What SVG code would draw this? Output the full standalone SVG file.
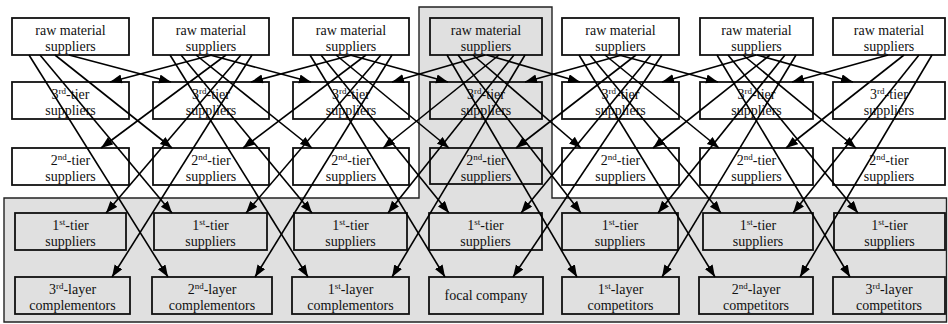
<svg xmlns="http://www.w3.org/2000/svg" width="948" height="324" viewBox="0 0 948 324" font-family="'Liberation Serif','DejaVu Serif',serif">
<defs>
<marker id="ah" markerUnits="userSpaceOnUse" markerWidth="13" markerHeight="10" refX="12" refY="4.5" orient="auto">
<path d="M0,0 L12,4.5 L0,9 z" fill="#000"/>
</marker>
<style>
.b{fill:#fff;stroke:#111;stroke-width:1.8}
.g{fill:#e0e0e0;stroke:#111;stroke-width:1.8}
text{font-family:'Liberation Serif','DejaVu Serif',serif;font-size:14px;fill:#111;text-anchor:middle}
.s{font-size:9px}
.c{stroke:#000;stroke-width:1.6;fill:none;marker-end:url(#ah)}
</style>
</defs>
<rect width="948" height="324" fill="#fff"/>
<polygon id="focal-network" points="419,7 552,7 552,198 946.5,198 946.5,322 4,322 4,198 419,198" fill="#e0e0e0" stroke="#222" stroke-width="1.4"/>

<!-- row 1: raw material suppliers -->
<g id="raw1"><rect class="b" x="12" y="18" width="117" height="37"/><text x="70.5" y="35">raw material</text><text x="70.5" y="51">suppliers</text></g>
<g id="raw2"><rect class="b" x="153" y="18" width="116" height="37"/><text x="211" y="35">raw material</text><text x="211" y="51">suppliers</text></g>
<g id="raw3"><rect class="b" x="293" y="18" width="116" height="37"/><text x="351" y="35">raw material</text><text x="351" y="51">suppliers</text></g>
<g id="raw4"><rect class="g" x="430" y="18" width="112" height="37"/><text x="486" y="35">raw material</text><text x="486" y="51">suppliers</text></g>
<g id="raw5"><rect class="b" x="562" y="18" width="117" height="37"/><text x="620.5" y="35">raw material</text><text x="620.5" y="51">suppliers</text></g>
<g id="raw6"><rect class="b" x="700" y="18" width="113" height="37"/><text x="756.5" y="35">raw material</text><text x="756.5" y="51">suppliers</text></g>
<g id="raw7"><rect class="b" x="833" y="18" width="112" height="37"/><text x="889" y="35">raw material</text><text x="889" y="51">suppliers</text></g>

<!-- row 2: 3rd-tier suppliers -->
<g id="t3-1"><rect class="b" x="12" y="82" width="117" height="37"/><text x="70.5" y="98.5">3<tspan class="s" dy="-5">rd</tspan><tspan dy="5">-tier</tspan></text><text x="70.5" y="115">suppliers</text></g>
<g id="t3-2"><rect class="b" x="153" y="82" width="116" height="37"/><text x="211" y="98.5">3<tspan class="s" dy="-5">rd</tspan><tspan dy="5">-tier</tspan></text><text x="211" y="115">suppliers</text></g>
<g id="t3-3"><rect class="b" x="293" y="82" width="116" height="37"/><text x="351" y="98.5">3<tspan class="s" dy="-5">rd</tspan><tspan dy="5">-tier</tspan></text><text x="351" y="115">suppliers</text></g>
<g id="t3-4"><rect class="g" x="430" y="82" width="112" height="37"/><text x="486" y="98.5">3<tspan class="s" dy="-5">rd</tspan><tspan dy="5">-tier</tspan></text><text x="486" y="115">suppliers</text></g>
<g id="t3-5"><rect class="b" x="562" y="82" width="117" height="37"/><text x="620.5" y="98.5">3<tspan class="s" dy="-5">rd</tspan><tspan dy="5">-tier</tspan></text><text x="620.5" y="115">suppliers</text></g>
<g id="t3-6"><rect class="b" x="700" y="82" width="113" height="37"/><text x="756.5" y="98.5">3<tspan class="s" dy="-5">rd</tspan><tspan dy="5">-tier</tspan></text><text x="756.5" y="115">suppliers</text></g>
<g id="t3-7"><rect class="b" x="833" y="82" width="112" height="37"/><text x="889" y="98.5">3<tspan class="s" dy="-5">rd</tspan><tspan dy="5">-tier</tspan></text><text x="889" y="115">suppliers</text></g>

<!-- row 3: 2nd-tier suppliers -->
<g id="t2-1"><rect class="b" x="12" y="148" width="117" height="37"/><text x="70.5" y="164.5">2<tspan class="s" dy="-5">nd</tspan><tspan dy="5">-tier</tspan></text><text x="70.5" y="181">suppliers</text></g>
<g id="t2-2"><rect class="b" x="153" y="148" width="116" height="37"/><text x="211" y="164.5">2<tspan class="s" dy="-5">nd</tspan><tspan dy="5">-tier</tspan></text><text x="211" y="181">suppliers</text></g>
<g id="t2-3"><rect class="b" x="293" y="148" width="116" height="37"/><text x="351" y="164.5">2<tspan class="s" dy="-5">nd</tspan><tspan dy="5">-tier</tspan></text><text x="351" y="181">suppliers</text></g>
<g id="t2-4"><rect class="g" x="430" y="148" width="112" height="36"/><text x="486" y="164.5">2<tspan class="s" dy="-5">nd</tspan><tspan dy="5">-tier</tspan></text><text x="486" y="181">suppliers</text></g>
<g id="t2-5"><rect class="b" x="562" y="148" width="117" height="37"/><text x="620.5" y="164.5">2<tspan class="s" dy="-5">nd</tspan><tspan dy="5">-tier</tspan></text><text x="620.5" y="181">suppliers</text></g>
<g id="t2-6"><rect class="b" x="700" y="148" width="113" height="37"/><text x="756.5" y="164.5">2<tspan class="s" dy="-5">nd</tspan><tspan dy="5">-tier</tspan></text><text x="756.5" y="181">suppliers</text></g>
<g id="t2-7"><rect class="b" x="833" y="148" width="112" height="37"/><text x="889" y="164.5">2<tspan class="s" dy="-5">nd</tspan><tspan dy="5">-tier</tspan></text><text x="889" y="181">suppliers</text></g>

<!-- row 4: 1st-tier suppliers -->
<g id="t1-1"><rect class="g" x="15" y="213" width="111" height="37"/><text x="70.5" y="229.5">1<tspan class="s" dy="-5">st</tspan><tspan dy="5">-tier</tspan></text><text x="70.5" y="246">suppliers</text></g>
<g id="t1-2"><rect class="g" x="154" y="213" width="113" height="37"/><text x="210.5" y="229.5">1<tspan class="s" dy="-5">st</tspan><tspan dy="5">-tier</tspan></text><text x="210.5" y="246">suppliers</text></g>
<g id="t1-3"><rect class="g" x="294" y="213" width="113" height="37"/><text x="350.5" y="229.5">1<tspan class="s" dy="-5">st</tspan><tspan dy="5">-tier</tspan></text><text x="350.5" y="246">suppliers</text></g>
<g id="t1-4"><rect class="g" x="429" y="213" width="113" height="37"/><text x="485.5" y="229.5">1<tspan class="s" dy="-5">st</tspan><tspan dy="5">-tier</tspan></text><text x="485.5" y="246">suppliers</text></g>
<g id="t1-5"><rect class="g" x="562" y="213" width="116" height="37"/><text x="620" y="229.5">1<tspan class="s" dy="-5">st</tspan><tspan dy="5">-tier</tspan></text><text x="620" y="246">suppliers</text></g>
<g id="t1-6"><rect class="g" x="703" y="213" width="110" height="37"/><text x="758" y="229.5">1<tspan class="s" dy="-5">st</tspan><tspan dy="5">-tier</tspan></text><text x="758" y="246">suppliers</text></g>
<g id="t1-7"><rect class="g" x="834" y="213" width="111" height="37"/><text x="889.5" y="229.5">1<tspan class="s" dy="-5">st</tspan><tspan dy="5">-tier</tspan></text><text x="889.5" y="246">suppliers</text></g>

<!-- row 5 -->
<g id="comp3"><rect class="g" x="15" y="277" width="115" height="37"/><text x="72.5" y="293.5">3<tspan class="s" dy="-5">rd</tspan><tspan dy="5">-layer</tspan></text><text x="72.5" y="310">complementors</text></g>
<g id="comp2"><rect class="g" x="152" y="277" width="120" height="37"/><text x="212" y="293.5">2<tspan class="s" dy="-5">nd</tspan><tspan dy="5">-layer</tspan></text><text x="212" y="310">complementors</text></g>
<g id="comp1"><rect class="g" x="292" y="277" width="117" height="37"/><text x="350.5" y="293.5">1<tspan class="s" dy="-5">st</tspan><tspan dy="5">-layer</tspan></text><text x="350.5" y="310">complementors</text></g>
<g id="focal"><rect class="g" x="429" y="277" width="114" height="37"/><text x="486" y="300">focal company</text></g>
<g id="compt1"><rect class="g" x="562" y="277" width="117" height="37"/><text x="620.5" y="293.5">1<tspan class="s" dy="-5">st</tspan><tspan dy="5">-layer</tspan></text><text x="620.5" y="310">competitors</text></g>
<g id="compt2"><rect class="g" x="699" y="277" width="114" height="37"/><text x="756" y="293.5">2<tspan class="s" dy="-5">nd</tspan><tspan dy="5">-layer</tspan></text><text x="756" y="310">competitors</text></g>
<g id="compt3"><rect class="g" x="833" y="277" width="112" height="37"/><text x="889" y="293.5">3<tspan class="s" dy="-5">rd</tspan><tspan dy="5">-layer</tspan></text><text x="889" y="310">competitors</text></g>

<g id="connectors">
<!-- right-going -->
<line class="c" x1="69" y1="55" x2="171" y2="82"/>
<line class="c" x1="55" y1="55" x2="172" y2="148"/>
<line class="c" x1="40" y1="55" x2="172" y2="213"/>
<line class="c" x1="29" y1="55" x2="168" y2="277"/>
<line class="c" x1="210" y1="55" x2="311" y2="82"/>
<line class="c" x1="196" y1="55" x2="312" y2="148"/>
<line class="c" x1="181" y1="55" x2="312" y2="213"/>
<line class="c" x1="170" y1="55" x2="308" y2="277"/>
<line class="c" x1="350" y1="55" x2="448" y2="82"/>
<line class="c" x1="336" y1="55" x2="449" y2="148"/>
<line class="c" x1="321" y1="55" x2="449" y2="213"/>
<line class="c" x1="310" y1="55" x2="445" y2="277"/>
<line class="c" x1="487" y1="55" x2="580" y2="82"/>
<line class="c" x1="473" y1="55" x2="581" y2="148"/>
<line class="c" x1="458" y1="55" x2="581" y2="213"/>
<line class="c" x1="447" y1="55" x2="577" y2="277"/>
<line class="c" x1="619" y1="55" x2="718" y2="82"/>
<line class="c" x1="605" y1="55" x2="719" y2="148"/>
<line class="c" x1="590" y1="55" x2="721" y2="213"/>
<line class="c" x1="579" y1="55" x2="715" y2="277"/>
<line class="c" x1="757" y1="55" x2="853" y2="82"/>
<line class="c" x1="743" y1="55" x2="856" y2="148"/>
<line class="c" x1="728" y1="55" x2="858" y2="213"/>
<line class="c" x1="717" y1="55" x2="850" y2="277"/>
<!-- left-going -->
<line class="c" x1="212" y1="55" x2="110" y2="82"/>
<line class="c" x1="226" y1="55" x2="101" y2="148"/>
<line class="c" x1="241" y1="55" x2="106" y2="213"/>
<line class="c" x1="252" y1="55" x2="112" y2="277"/>
<line class="c" x1="352" y1="55" x2="251" y2="82"/>
<line class="c" x1="366" y1="55" x2="243" y2="148"/>
<line class="c" x1="381" y1="55" x2="246" y2="213"/>
<line class="c" x1="392" y1="55" x2="255" y2="277"/>
<line class="c" x1="485" y1="55" x2="392" y2="82"/>
<line class="c" x1="499" y1="55" x2="383" y2="148"/>
<line class="c" x1="514" y1="55" x2="388" y2="213"/>
<line class="c" x1="525" y1="55" x2="392" y2="277"/>
<line class="c" x1="622" y1="55" x2="525" y2="82"/>
<line class="c" x1="636" y1="55" x2="516" y2="148"/>
<line class="c" x1="651" y1="55" x2="521" y2="213"/>
<line class="c" x1="662" y1="55" x2="513" y2="277"/>
<line class="c" x1="756" y1="55" x2="662" y2="82"/>
<line class="c" x1="770" y1="55" x2="653" y2="148"/>
<line class="c" x1="785" y1="55" x2="658" y2="213"/>
<line class="c" x1="796" y1="55" x2="662" y2="277"/>
<line class="c" x1="888" y1="55" x2="792" y2="82"/>
<line class="c" x1="904" y1="55" x2="786" y2="148"/>
<line class="c" x1="919" y1="55" x2="793" y2="213"/>
<line class="c" x1="932" y1="55" x2="800" y2="277"/>
</g>
</svg>
